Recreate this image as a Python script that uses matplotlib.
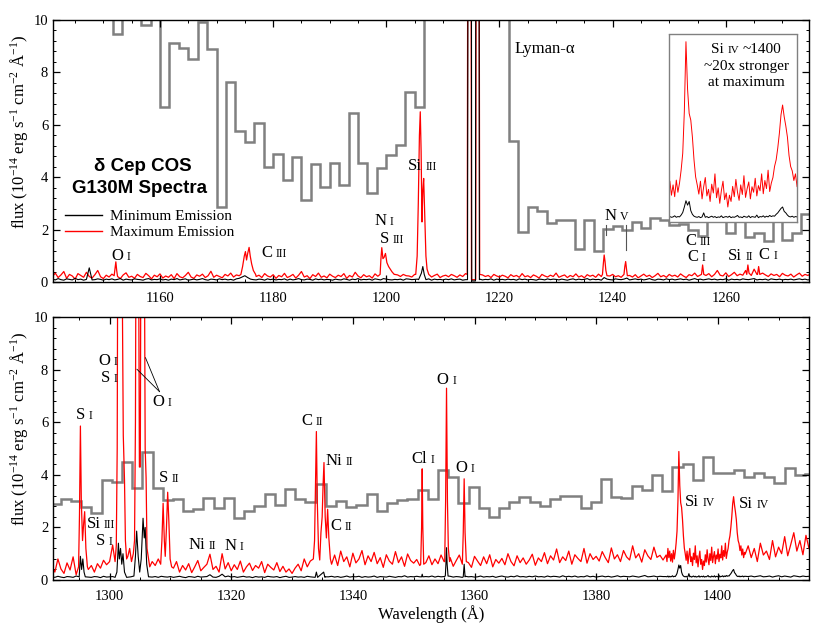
import numpy as np
import matplotlib
matplotlib.use('Agg')
import matplotlib.pyplot as plt
from matplotlib.lines import Line2D
from matplotlib.offsetbox import HPacker, TextArea, AnnotationBbox
from matplotlib.ticker import MultipleLocator

plt.rcParams['font.family'] = ['Liberation Serif', 'DejaVu Serif']
plt.rcParams['mathtext.fontset'] = 'custom'
plt.rcParams['mathtext.rm'] = 'Liberation Serif'
plt.rcParams['mathtext.default'] = 'regular'

# ---------------- top panel (1141-1275 A) ----------------
top_start, top_step = 1141.0, 0.5
# red = maximum emission, black = minimum emission (units of 0.01)
top_red = [
    22, 35, 18, 28, 41, 15, 30, 24, 12, 33, 26, 19, 38, 22, 16, 29, 45, 21, 14, 27,
    20, 31, 17, 25, 14, 28, 36, 19, 23, 15, 30, 22, 18, 34, 25, 13, 27, 21, 32, 16,
    24, 19, 29, 14, 33, 21, 17, 26, 38, 20, 15, 28, 23, 31, 18, 25, 42, 19, 27, 22,
    17, 30, 24, 35, 20, 28, 25, 45, 50, 45, 35, 28, 22, 27, 18, 33, 24, 20, 29, 15,
    26, 21, 34, 18, 23, 30, 16, 27, 41, 20, 25, 14, 29, 22, 35, 19, 24, 17, 31, 23,
    18, 27, 22, 33, 15, 26, 20, 38, 24, 17, 29, 21, 25, 16, 32, 23, 30, 60, 60, 60,
    40, 30, 28, 22, 30, 25, 24, 20, 30, 40, 30, 25, 22, 28, 20, 26, 31, 18, 24, 27,
    21, 30, 25, 19, 28, 22, 33, 25, 30, 30, 30, 30, 28, 22, 26, 18, 30, 24, 20, 27,
    23, 17, 29, 22, 26, 19, 33, 21, 25, 18, 28, 23, 16, 30, 24, 20, 27, 22, 35, 19,
    24, 28, 18, 26, 21, 32, 20, 25, 17, 29, 23, 27, 19, 31, 22, 26, 18, 24, 30, 21,
    25, 19, 28, 33, 26, 20, 29, 17, 24, 31, 22, 27, 18, 25, 34, 21, 26, 19, 30, 23,
    27, 20, 32, 24, 18, 29, 25, 35, 22, 28, 40, 26, 33, 21, 30, 45, 27, 24, 36, 22,
    29, 38, 25, 31, 27, 45, 33, 26, 50, 30, 24, 35, 28, 22, 32, 26, 30, 21, 34, 27,
    24, 31, 20, 28, 35, 23, 30, 26, 32]
top_black = [
    12, 9, 14, 10, 8, 13, 11, 9, 15, 10, 12, 8, 11, 55, 9, 10, 13, 11, 8, 12,
    10, 13, 9, 11, 14, 8, 12, 10, 9, 13, 11, 10, 8, 12, 14, 9, 11, 10, 13, 9,
    11, 8, 12, 10, 14, 9, 11, 13, 8, 10, 12, 9, 11, 14, 10, 8, 12, 11, 9, 13,
    10, 12, 9, 11, 8, 13, 15, 20, 25, 18, 12, 10, 9, 12, 11, 8, 13, 10, 12, 9,
    11, 10, 13, 8, 12, 9, 11, 14, 10, 9, 12, 11, 8, 13, 10, 12, 9, 11, 10, 8,
    12, 10, 9, 13, 11, 8, 12, 10, 14, 9, 11, 10, 12, 8, 13, 11, 9, 14, 12, 10,
    9, 11, 10, 12, 8, 13, 12, 10, 11, 12, 10, 9, 11, 13, 8, 12, 10, 11, 9, 12,
    10, 13, 9, 11, 12, 8, 10, 11, 12, 12, 12, 12, 9, 11, 10, 13, 8, 12, 10, 11,
    9, 12, 10, 11, 8, 13, 10, 12, 9, 11, 10, 8, 12, 11, 9, 13, 10, 12, 11, 9,
    12, 10, 8, 11, 13, 9, 12, 10, 11, 14, 9, 12, 10, 11, 8, 18, 12, 10, 9, 13,
    11, 10, 12, 16, 9, 11, 13, 10, 12, 9, 11, 14, 10, 8, 12, 11, 9, 13, 10, 12,
    9, 11, 13, 10, 12, 8, 11, 14, 10, 12, 9, 11, 13, 10, 12, 9, 11, 10, 13, 8,
    12, 10, 11, 9, 13, 11, 10, 12, 14, 9, 11, 10, 12, 8, 13, 11, 10, 12, 9, 11,
    10, 12, 9, 11, 13, 10, 12, 9, 11]

# emission lines (wavelength, flux) sampled finer than the grid
top_red_lines = [
    ([1151.9, 1152.05, 1152.2, 1152.35, 1152.5], [0.25, 0.5, 0.78, 0.45, 0.22]),
    ([1174.3, 1174.6, 1174.9, 1175.1, 1175.3, 1175.5, 1175.75, 1175.95, 1176.2, 1176.5, 1176.9],
     [0.3, 0.6, 1.0, 1.17, 0.85, 1.1, 1.33, 1.0, 0.7, 0.45, 0.3]),
    ([1198.9, 1199.05, 1199.2, 1199.4, 1199.6, 1199.85, 1200.1, 1200.4, 1200.7, 1201.0, 1201.4],
     [0.3, 0.9, 1.32, 0.9, 0.95, 1.1, 0.75, 0.6, 0.5, 0.4, 0.3]),
    ([1205.2, 1205.45, 1205.65, 1205.85, 1206.0, 1206.15, 1206.3, 1206.45, 1206.6, 1206.8, 1207.0, 1207.2, 1207.5],
     [0.3, 1.0, 3.0, 5.6, 6.5, 5.0, 2.3, 3.5, 3.96, 2.5, 1.0, 0.5, 0.3]),
    ([1214.3, 1214.5, 1214.9, 1215.05, 1215.8, 1215.95, 1216.3, 1216.5],
     [0.3, 30, 30, 0.1, 0.1, 30, 30, 0.3]),
    ([1238.2, 1238.35, 1238.5, 1238.65, 1238.8, 1239.0], [0.3, 0.7, 1.04, 0.8, 0.45, 0.25]),
    ([1242.0, 1242.15, 1242.3, 1242.45, 1242.6], [0.3, 0.6, 0.79, 0.5, 0.25]),
    ([1255.7, 1255.9, 1256.1], [0.3, 0.66, 0.3]),
    ([1263.7, 1263.9, 1264.1], [0.3, 0.66, 0.35]),
    ([1265.6, 1265.8, 1266.0], [0.3, 0.6, 0.3]),
]
top_black_lines = [
    ([1205.7, 1206.0, 1206.2, 1206.45, 1206.7, 1207.0], [0.1, 0.25, 0.35, 0.6, 0.3, 0.1]),
    ([1214.35, 1214.55, 1214.95, 1215.1, 1215.75, 1215.9, 1216.3, 1216.45],
     [0.1, 30, 30, 0.05, 0.05, 30, 30, 0.1]),
]

# older low-resolution spectrum (grey histogram), bins of 5/3 A
top_grey_start, top_grey_width = 1140.0, 5.0 / 3.0
top_grey = [12, 12, 12, 12, 12, 12, 12, 9.45, 12, 12, 9.8, 12,
            6.7, 9.14, 8.95, 8.53, 9.94, 8.9, 2.88, 7.64, 5.77, 5.36,
            6.09, 4.41, 4.88, 3.9, 4.76, 3.14, 4.51, 3.65, 4.54, 3.71,
            6.44, 4.54, 3.39, 4.35, 4.85, 5.24, 7.24, 6.7,
            12, 12, 12, 12, 12, 12, 12, 12, 12,
            5.39, 1.93, 2.88, 2.73, 2.27, 2.38, 2.38, 1.26, 2.38, 1.21,
            2.02, 2.15, 1.99, 2.31, 2.06, 2.44, 2.36, 2.19, 2.22,
            1.99, 1.77, 2.4, 2.4, 1.87, 2.4, 1.71, 1.87, 1.59, 2.4, 1.61, 1.87, 2.59]

# ---------------- bottom panel (1290-1415 A) ----------------
bot_start, bot_step = 1290.5, 0.5
bot_red = [
    55, 30, 80, 42, 25, 65, 38, 88, 20, 50,
    60, 70, 40, 55, 30, 62, 45, 75, 58, 70,
    133, 70, 80, 80, 80, 90, 100, 100, 100, 100,
    100, 100, 100, 70, 55, 80, 60, 100, 200, 100,
    45, 70, 30, 55, 38, 62, 28, 50, 74, 35,
    48, 60, 98, 40, 52, 30, 100, 42, 66, 35,
    58, 40, 72, 30, 50, 64, 36, 55, 45, 70,
    28, 60, 48, 38, 66, 32, 52, 30, 42, 25,
    45, 60, 35, 80, 50, 72, 40, 90, 200, 300,
    150, 90, 60, 95, 55, 110, 70, 88, 50, 102,
    65, 80, 112, 58, 92, 70, 105, 62, 85, 48,
    96, 72, 60, 108, 66, 88, 52, 99, 74, 64,
    78, 55, 90, 66, 92, 58, 80, 62, 95, 70,
    60, 85, 52, 74, 95, 58, 80, 66, 48, 90,
    72, 55, 88, 62, 96, 50, 78, 64, 82, 58,
    100, 70, 54, 92, 66, 84, 60, 76, 98, 56,
    84, 70, 104, 62, 92, 76, 118, 66, 88, 74,
    110, 60, 96, 82, 70, 120, 64, 100, 78, 90,
    72, 108, 85, 66, 122, 80, 96, 70, 112, 88,
    76, 130, 84, 100, 68, 115, 92, 78, 125, 86,
    94, 76, 100, 100, 100, 100, 100, 100, 100, 100,
    100, 100, 100, 100, 100, 100, 100, 100, 100, 100,
    100, 100, 100, 100, 100, 100, 100, 100, 98, 130,
    85, 120, 70, 140, 95, 110, 78, 150, 88, 125,
    100, 165, 92, 135, 180, 110, 150, 96, 170, 120]
bot_black = [
    12, 10, 14, 11, 9, 13, 12, 10, 15, 11,
    12, 14, 11, 10, 13, 12, 9, 14, 11, 12,
    13, 11, 12, 12, 12, 12, 12, 12, 12, 12,
    12, 12, 12, 11, 13, 10, 14, 12, 11, 13,
    10, 12, 14, 11, 9, 13, 12, 10, 14, 11,
    12, 13, 20, 11, 10, 14, 22, 12, 15, 11,
    13, 10, 12, 14, 11, 12, 9, 13, 11, 12,
    10, 14, 12, 11, 13, 9, 12, 14, 10, 11,
    13, 11, 12, 10, 14, 12, 11, 13, 12, 12,
    12, 12, 14, 11, 13, 10, 12, 15, 11, 13,
    12, 14, 10, 13, 11, 12, 15, 10, 13, 12,
    11, 14, 12, 10, 13, 12, 16, 11, 13, 12,
    14, 12, 11, 13, 12, 15, 11, 14, 12, 13,
    12, 14, 11, 13, 12, 10, 14, 12, 13, 11,
    12, 15, 11, 13, 12, 14, 10, 13, 15, 12,
    11, 14, 12, 16, 12, 13, 11, 14, 12, 15,
    12, 13, 11, 15, 12, 14, 13, 11, 16, 12,
    14, 12, 15, 11, 13, 12, 16, 12, 14, 11,
    13, 15, 12, 14, 11, 13, 16, 12, 14, 13,
    12, 15, 13, 11, 14, 17, 12, 13, 15, 12,
    14, 13, 12, 12, 12, 12, 12, 12, 12, 12,
    12, 12, 12, 12, 12, 12, 12, 12, 12, 12,
    12, 12, 12, 12, 12, 12, 12, 12, 14, 13,
    15, 12, 14, 16, 12, 13, 15, 11, 14, 16,
    12, 15, 13, 11, 16, 14, 12, 15, 13, 14]

# Si IV 1394/1403 region, sampled every 0.15 A (also shown in the inset)
siiv_start, siiv_step = 1391.5, 0.15
siiv_red = [95, 70, 120, 85, 110, 72, 100, 68, 113, 80, 105,
            140, 186, 300, 489, 360, 294, 276, 230, 168, 122,
            100, 75, 110, 62, 95, 120, 70, 88, 55, 102,
            78, 130, 65, 92, 50, 85, 110, 60, 78, 40,
            72, 55, 96, 68, 115, 80, 58, 100, 74, 125,
            66, 90, 108, 62, 95, 80, 118, 70, 98, 84,
            130, 76, 112, 90, 140, 82, 105, 120, 150, 168,
            200, 240, 290, 317, 285, 260, 230, 180, 150, 138,
            112, 130, 95, 118, 85, 105]
siiv_black = [13, 12, 15, 11, 14, 12, 13, 16, 12, 14, 13,
              18, 25, 40, 57, 45, 55, 30, 20, 15, 13,
              12, 14, 11, 13, 24, 12, 14, 11, 13, 15,
              12, 14, 11, 13, 12, 16, 11, 13, 14, 12,
              15, 11, 13, 12, 14, 17, 12, 13, 11, 15,
              13, 12, 16, 11, 14, 13, 12, 18, 11, 14,
              13, 16, 12, 15, 13, 17, 14, 16, 15, 20,
              24, 30, 36, 40, 28, 24, 18, 14, 13, 15,
              12, 14, 13, 15, 12, 14]

bot_red_lines = [
    ([1294.9, 1295.05, 1295.2, 1295.35, 1295.55, 1295.75, 1295.9, 1296.1, 1296.35],
     [0.5, 2.5, 5.86, 3.0, 1.5, 2.2, 2.6, 1.2, 0.5]),
    ([1300.9, 1301.1, 1301.25, 1301.35, 1302.0, 1302.25, 1302.45, 1302.6, 1302.8,
      1303.0, 1303.3, 1303.6, 1303.9, 1304.1, 1304.25, 1304.35, 1304.75, 1304.9,
      1305.05, 1305.15, 1305.7, 1305.85, 1306.0, 1306.15, 1306.4, 1306.6],
     [0.7, 1.3, 5, 14, 14, 5.5, 3.8, 1.5, 0.8,
      0.9, 1.2, 0.7, 1.0, 1.5, 6, 14, 14, 4.3,
      4.3, 14, 14, 5, 3.9, 1.2, 0.8, 0.5]),
    ([1308.4, 1308.6, 1308.8, 1309.0, 1309.15, 1309.35, 1309.55, 1309.75, 1309.95, 1310.2],
     [0.6, 1.5, 2.92, 1.5, 0.9, 2.0, 3.34, 2.2, 0.8, 0.5]),
    ([1333.5, 1333.7, 1333.85, 1334.0, 1334.15, 1334.35, 1334.55, 1334.75, 1334.95, 1335.1,
      1335.25, 1335.45, 1335.65, 1335.85, 1336.05, 1336.3],
     [0.8, 1.5, 3.5, 5.65, 3.0, 1.2, 0.76, 1.8, 2.4, 3.6,
      4.47, 2.4, 1.6, 2.69, 1.6, 0.8]),
    ([1351.15, 1351.3, 1351.4, 1351.5, 1351.65], [0.6, 2.0, 4.23, 2.0, 0.6]),
    ([1355.1, 1355.25, 1355.4, 1355.55, 1355.7, 1355.9], [0.7, 3.0, 7.3, 3.0, 1.2, 0.7]),
    ([1358.0, 1358.15, 1358.3, 1358.45, 1358.65], [0.6, 1.8, 3.85, 1.8, 0.7]),
]
bot_black_lines = [
    ([1295.0, 1295.2, 1295.4, 1295.6, 1295.8, 1296.0], [0.12, 0.9, 0.4, 0.8, 0.3, 0.12]),
    ([1300.9, 1301.2, 1301.45, 1301.6, 1301.8, 1302.0, 1302.2, 1302.45, 1302.8, 1303.5,
      1304.0, 1304.25, 1304.45, 1304.7, 1304.95, 1305.2, 1305.5, 1305.7, 1305.85, 1306.1, 1306.4],
     [0.1, 0.3, 1.4, 0.8, 1.2, 0.6, 1.0, 0.3, 0.1, 0.12,
      0.15, 0.9, 1.86, 0.9, 0.3, 0.8, 2.35, 1.6, 2.0, 0.6, 0.12]),
    ([1333.8, 1334.0, 1334.2, 1335.2, 1335.4], [0.1, 0.3, 0.1, 0.3, 0.1]),
    ([1351.3, 1351.4, 1351.5], [0.12, 0.22, 0.12]),
    ([1355.2, 1355.3, 1355.4, 1355.5, 1355.65], [0.15, 0.6, 1.23, 0.6, 0.15]),
    ([1358.15, 1358.3, 1358.45], [0.12, 0.6, 0.12]),
]

bot_grey_start, bot_grey_width = 1290.3, 1.676
bot_grey = [2.89, 3.08, 3.0, 2.77, 2.56, 3.79, 3.72, 4.48, 3.49, 4.86,
            3.49, 3.05, 3.1, 2.63, 2.7, 3.13, 2.75, 3.13, 2.35, 2.63,
            2.82, 3.26, 2.86, 3.46, 3.08, 2.96, 3.64, 2.82, 3.0, 2.78,
            2.86, 3.26, 2.64, 2.92, 3.03, 3.08, 3.43, 3.07, 4.19, 3.93,
            2.94, 3.55, 2.73, 2.39, 2.73, 2.98, 3.17, 2.98, 2.83, 3.07,
            3.21, 3.21, 2.73, 2.96, 3.85, 3.15, 3.12, 3.58, 3.43, 4.0,
            3.4, 4.31, 4.4, 3.81, 4.67, 4.06, 4.09, 4.19, 3.93, 4.09,
            3.93, 3.71, 4.25, 4.0, 4.04]

# line identifications: (wavelength, flux, element, ion)
top_labels = [(1151.4, 1.0, 'O', 'I'), (1177.9, 1.12, 'C', 'III'), (1197.9, 2.33, 'N', 'I'),
              (1198.8, 1.66, 'S', 'III'), (1203.8, 4.43, 'Si', 'III'), (1238.5, 2.52, 'N', 'V'),
              (1252.8, 1.58, 'C', 'III'), (1253.2, 0.98, 'C', 'I'), (1260.4, 1.01, 'Si', 'II'),
              (1265.8, 1.05, 'C', 'I')]
bot_labels = [(1294.4, 6.29, 'S', 'I'), (1296.2, 2.12, 'Si', 'III'), (1297.8, 1.5, 'S', 'I'),
              (1298.2, 8.32, 'O', 'I'), (1298.6, 7.69, 'S', 'I'), (1307.0, 6.78, 'O', 'I'),
              (1308.1, 3.87, 'S', 'II'), (1313.0, 1.32, 'Ni', 'II'), (1318.9, 1.29, 'N', 'I'),
              (1331.5, 6.06, 'C', 'II'), (1335.5, 4.52, 'Ni', 'II'), (1336.3, 2.05, 'C', 'II'),
              (1349.6, 4.6, 'Cl', 'I'), (1353.8, 7.63, 'O', 'I'), (1356.9, 4.27, 'O', 'I'),
              (1394.6, 2.97, 'Si', 'IV'), (1403.5, 2.9, 'Si', 'IV')]
oi_pointers = [((1308.2, 7.17), (1304.5, 8.02)), ((1308.2, 7.17), (1305.9, 8.46))]
nv_marks = [(1238.9, 1.8, 2.18), (1242.3, 1.23, 2.18)]


def build(start, step, vals, lines, scale=0.01):
    wl = start + step * np.arange(len(vals))
    fl = np.array(vals, float) * scale
    keep = np.ones(len(wl), bool)
    for lw_, _ in lines:
        keep &= ~((wl >= min(lw_) - 1e-6) & (wl <= max(lw_) + 1e-6))
    x = np.concatenate([wl[keep]] + [np.array(l[0], float) for l in lines])
    y = np.concatenate([fl[keep]] + [np.array(l[1], float) for l in lines])
    o = np.argsort(x)
    return x[o], y[o]


def ion_label(ax, x, y, elem, ion, size=12, small=8.5, coords='data', align=(0, 0.5), tail=''):
    kids = [TextArea(elem, textprops=dict(size=size)),
            TextArea(ion, textprops=dict(size=small))]
    if tail:
        kids.append(TextArea(tail, textprops=dict(size=size)))
    box = HPacker(children=kids, align='baseline', pad=0, sep=2.5)
    ab = AnnotationBbox(box, (x, y), xycoords=coords, box_alignment=align,
                        frameon=False, pad=0)
    ax.add_artist(ab)


siiv_wl = siiv_start + siiv_step * np.arange(len(siiv_red))
top_rx, top_ry = build(top_start, top_step, top_red, top_red_lines)
top_bx, top_by = build(top_start, top_step, top_black, top_black_lines)
bot_rx, bot_ry = build(bot_start, bot_step, bot_red,
                       bot_red_lines + [(list(siiv_wl), list(np.array(siiv_red) / 100.0))])
bot_bx, bot_by = build(bot_start, bot_step, bot_black,
                       bot_black_lines + [(list(siiv_wl), list(np.array(siiv_black) / 100.0))])

fig = plt.figure(figsize=(8.3, 6.27), dpi=100)
ax1 = fig.add_axes([0.0639, 0.5498, 0.9108, 0.4183])
ax2 = fig.add_axes([0.0639, 0.075, 0.9108, 0.419])

grey = '#808080'
for ax, gs, gw, gv in [(ax1, top_grey_start, top_grey_width, top_grey),
                       (ax2, bot_grey_start, bot_grey_width, bot_grey)]:
    edges = gs + gw * np.arange(len(gv) + 1)
    ax.stairs(gv, edges, baseline=None, color=grey, lw=1.8, zorder=1)

ax1.plot(top_rx, top_ry, color='red', lw=0.9, zorder=2)
ax1.plot(top_bx, top_by, color='black', lw=0.8, zorder=3)
ax2.plot(bot_rx, bot_ry, color='red', lw=0.9, zorder=2)
ax2.plot(bot_bx, bot_by, color='black', lw=0.8, zorder=3)

ax1.set_xlim(1141.1, 1274.7)
ax2.set_xlim(1290.7, 1415.0)
for ax in (ax1, ax2):
    ax.set_ylim(0, 10)
    ax.xaxis.set_major_locator(MultipleLocator(20))
    ax.xaxis.set_minor_locator(MultipleLocator(5))
    ax.yaxis.set_major_locator(MultipleLocator(2))
    ax.yaxis.set_minor_locator(MultipleLocator(0.4))
    ax.tick_params(which='both', direction='in', top=True, right=True, labelsize=10.5)
    ax.tick_params(which='major', length=5, width=0.9)
    ax.tick_params(which='minor', length=2.5, width=0.7)
    ax.tick_params(axis='x', pad=7)
    for s in ax.spines.values():
        s.set_linewidth(1.0)
    ax.set_ylabel(r'flux (10$^{-14}$ erg s$^{-1}$ cm$^{-2}$ Å$^{-1}$)', fontsize=12)
    ax.yaxis.set_label_coords(-0.031, 0.575)
ax2.set_xlabel('Wavelength (Å)', fontsize=12, labelpad=2)

for x, y, e, i in top_labels:
    ion_label(ax1, x, y, e, i)
for x, y, e, i in bot_labels:
    ion_label(ax2, x, y, e, i)
ax1.text(1222.6, 8.9, 'Lyman-α', fontsize=12, va='center', ha='left')
for (x0, y0), (x1, y1) in oi_pointers:
    ax2.plot([x0, x1], [y0, y1], color='black', lw=0.6, zorder=4)
for x, y0, y1 in nv_marks:
    ax1.plot([x, x], [y0, y1], color='#555555', lw=0.8, zorder=4)

ax1.text(0.119, 0.443, 'δ Cep COS', transform=ax1.transAxes, ha='center', va='center',
         fontsize=13.5, fontweight='bold', family='Liberation Sans')
ax1.text(0.114, 0.356, 'G130M Spectra', transform=ax1.transAxes, ha='center', va='center',
         fontsize=13.5, fontweight='bold', family='Liberation Sans')
handles = [Line2D([], [], color='black', lw=1), Line2D([], [], color='red', lw=1)]
ax1.legend(handles, ['Minimum Emission', 'Maximum Emission'], loc='upper left',
           bbox_to_anchor=(0.008, 0.30), frameon=False, fontsize=11, handlelength=2.4,
           handletextpad=0.5, labelspacing=0.15, borderaxespad=0)

# inset: Si IV doublet from the bottom panel
axi = fig.add_axes([0.8064, 0.6464, 0.1542, 0.2994])
axi.plot(bot_rx, bot_ry, color='red', lw=0.7)
axi.plot(bot_bx, bot_by, color='black', lw=0.7)
axi.set_xlim(1392.05, 1403.97)
axi.set_ylim(0, 5.1)
axi.set_xticks([])
axi.set_yticks([])
for s in axi.spines.values():
    s.set_color(grey)
    s.set_linestyle((0, (1, 1)))
    s.set_linewidth(1.0)
ion_label(axi, 0.6, 0.915, 'Si', 'IV', size=11, small=8, coords='axes fraction',
          align=(0.5, 0.5), tail='~1400')
axi.text(0.6, 0.826, '~20x stronger', transform=axi.transAxes, ha='center', va='center', fontsize=11)
axi.text(0.6, 0.742, 'at maximum', transform=axi.transAxes, ha='center', va='center', fontsize=11)

fig.savefig('out.png', dpi=100)
